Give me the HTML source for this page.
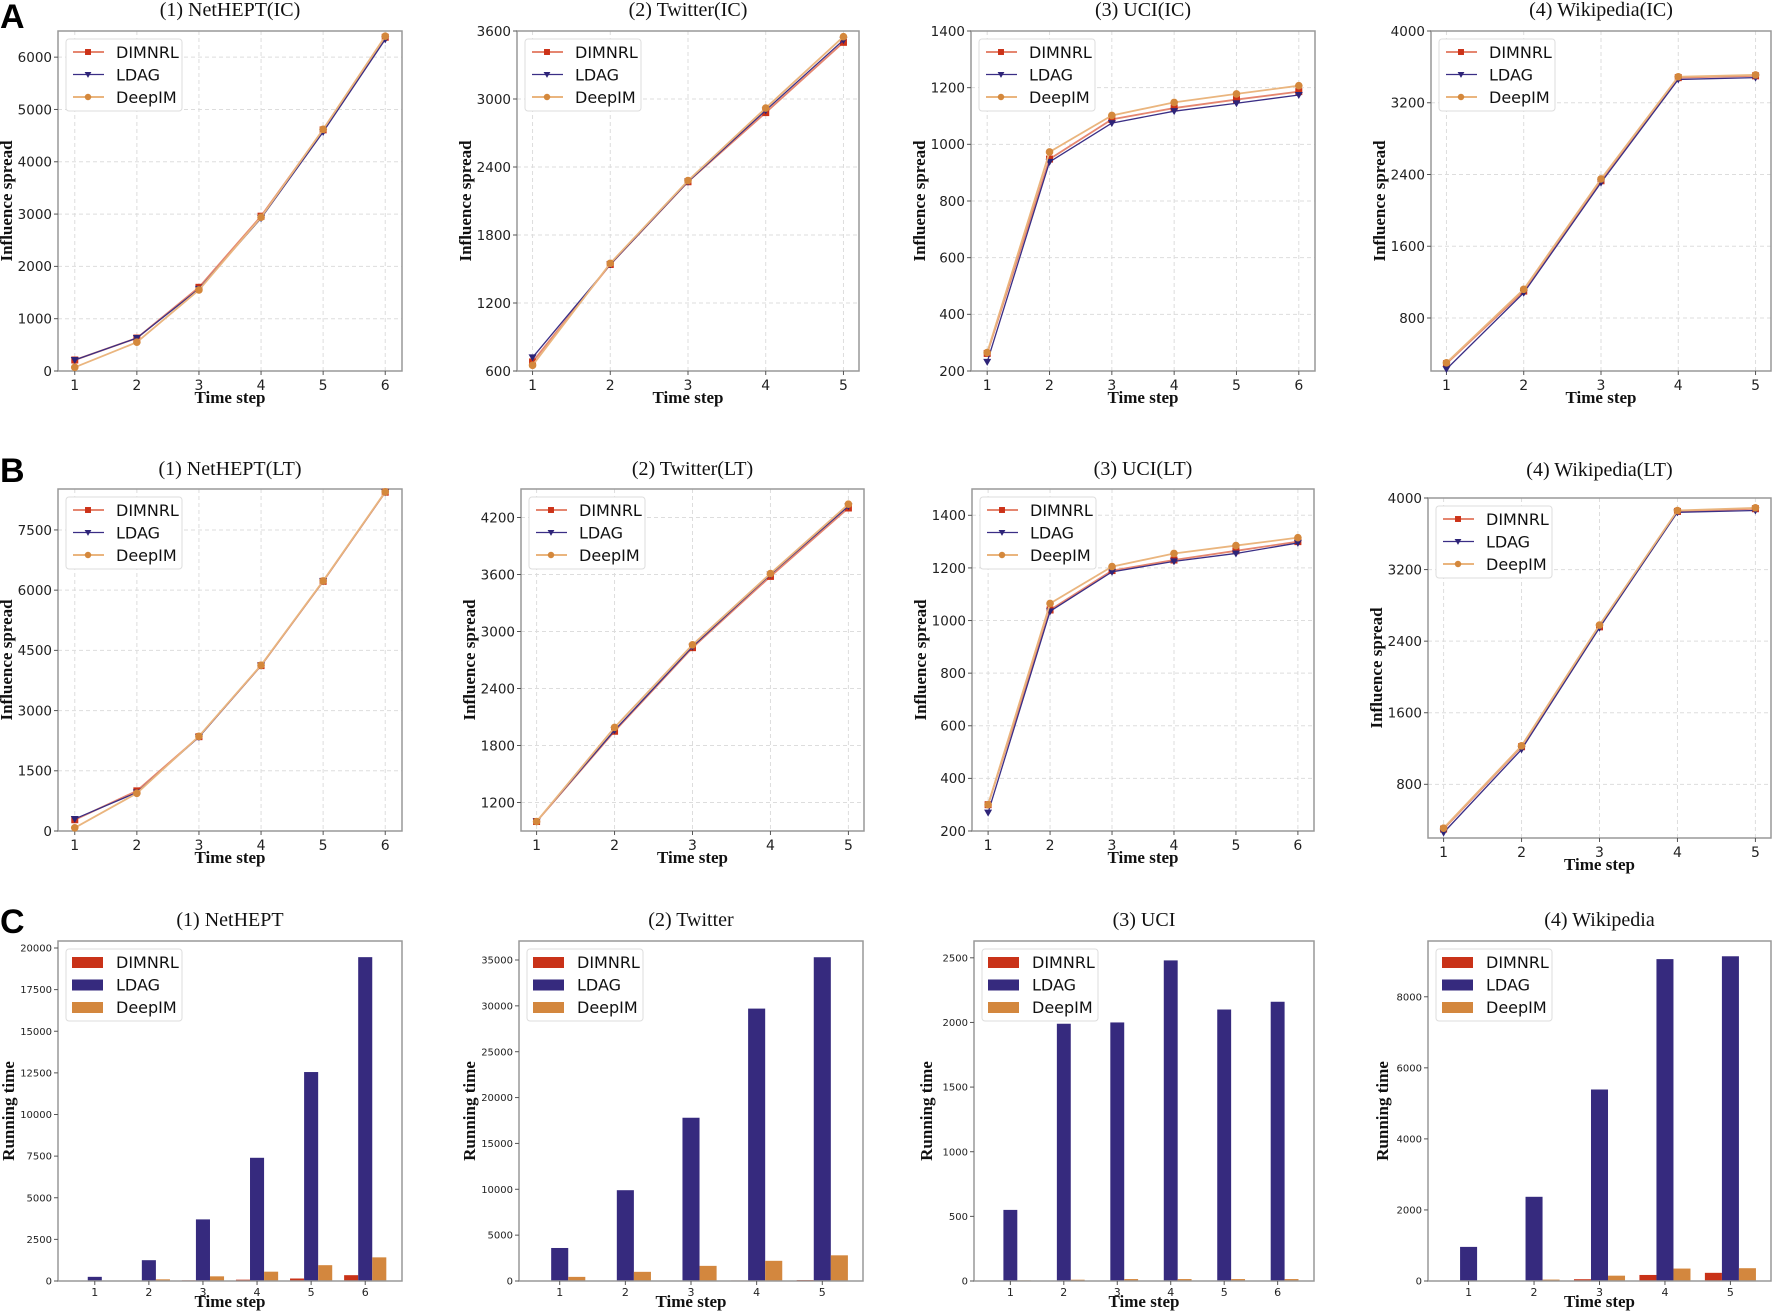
<!DOCTYPE html>
<html><head><meta charset="utf-8"><style>
body{margin:0;background:#fff}
svg{display:block}
.tk{font-family:"DejaVu Sans","Liberation Sans",sans-serif;fill:#222}
.ttl{font-family:"Liberation Serif",serif;font-size:20px;fill:#111}
.al{font-family:"Liberation Serif",serif;font-size:17px;font-weight:bold;fill:#111}
.lg{font-family:"DejaVu Sans","Liberation Sans",sans-serif;font-size:16px;fill:#111}
.pl{font-family:"Liberation Sans",sans-serif;font-size:34px;font-weight:bold;fill:#000}
</style></head><body>
<svg id="fig" width="1772" height="1311" xmlns="http://www.w3.org/2000/svg">
<text class="pl" x="0" y="28">A</text>
<text class="pl" x="0" y="482">B</text>
<text class="pl" x="0" y="933">C</text>
</svg>
<script>
const steps6=[1,2,3,4,5,6];
const steps5=[1,2,3,4,5];
const seriesNames=["DIMNRL","LDAG","DeepIM"];
// A row (IC)
const a1Dimnrl=[210,630,1600,2960,4610,6380];
const a1Ldag=[210,630,1570,2920,4570,6340];
const a1Deepim=[70,550,1550,2940,4620,6400];
const a1Ticks=[0,1000,2000,3000,4000,5000,6000];
const a2Dimnrl=[680,1540,2270,2880,3500];
const a2Ldag=[720,1540,2270,2900,3520];
const a2Deepim=[650,1550,2280,2920,3550];
const a2Ticks=[600,1200,1800,2400,3000,3600];
const a3Dimnrl=[262,948,1088,1128,1158,1186];
const a3Ldag=[232,938,1075,1117,1145,1174];
const a3Deepim=[265,973,1102,1148,1178,1207];
const a3Ticks=[200,400,600,800,1000,1200,1400];
const a4Dimnrl=[290,1100,2330,3480,3500];
const a4Ldag=[230,1080,2310,3460,3480];
const a4Deepim=[300,1120,2350,3490,3510];
const a4Ticks=[800,1600,2400,3200,4000];
// B row (LT)
const b1Dimnrl=[280,1000,2350,4120,6220,8440];
const b1Ldag=[300,960,2340,4120,6220,8440];
const b1Deepim=[80,940,2360,4130,6230,8450];
const b1Ticks=[0,1500,3000,4500,6000,7500];
const b2Dimnrl=[1000,1950,2830,3580,4300];
const b2Ldag=[1000,1960,2840,3600,4320];
const b2Deepim=[1000,1990,2860,3610,4340];
const b2Ticks=[1200,1800,2400,3000,3600,4200];
const b3Dimnrl=[300,1040,1190,1230,1265,1300];
const b3Ldag=[270,1035,1185,1225,1255,1295];
const b3Deepim=[300,1065,1205,1255,1285,1315];
const b3Ticks=[200,400,600,800,1000,1200,1400];
const b4Dimnrl=[300,1220,2560,3850,3880];
const b4Ldag=[260,1190,2550,3840,3860];
const b4Deepim=[310,1230,2580,3860,3890];
const b4Ticks=[800,1600,2400,3200,4000];
// C row (running time)
const c1Dimnrl=[10,20,40,80,150,350];
const c1Ldag=[250,1250,3700,7400,12550,19450];
const c1Deepim=[20,100,280,560,950,1420];
const c1Ticks=[0,2500,5000,7500,10000,12500,15000,17500,20000];
const c2Dimnrl=[10,20,40,60,100];
const c2Ldag=[3600,9900,17800,29700,35300];
const c2Deepim=[450,1000,1650,2200,2800];
const c2Ticks=[0,5000,10000,15000,20000,25000,30000,35000];
const c3Dimnrl=[2,3,3,3,3,3];
const c3Ldag=[550,1990,2000,2480,2100,2160];
const c3Deepim=[5,10,15,15,15,15];
const c3Ticks=[0,500,1000,1500,2000,2500];
const c4Dimnrl=[0,10,50,170,230];
const c4Ldag=[960,2370,5390,9060,9140];
const c4Deepim=[0,40,150,350,360];
const c4Ticks=[0,2000,4000,6000,8000];

const NS="http://www.w3.org/2000/svg";
const svg=document.getElementById('fig');
const lineCol=["#e58670","#3a2e85","#eab57e"];
const markCol=["#cc3218","#2e2478","#d4883c"];
const barCol=["#c93218","#362a7e","#d3873e"];
function mk(tag,attrs,parent){const e=document.createElementNS(NS,tag);for(const k in attrs)e.setAttribute(k,attrs[k]);(parent||svg).appendChild(e);return e;}
function txt(cls,x,y,s,anchor,parent){const t=mk('text',{class:cls,x:x,y:y,'text-anchor':anchor||'middle'},parent);t.textContent=s;return t;}

function frame(g,c,xs,ticks,sx,sy,tickFont,grid){
  if(grid){
    ticks.forEach(v=>{const y=sy(v);const l=mk('line',{x1:c.l,x2:c.r,y1:y,y2:y,stroke:'#ddd','stroke-dasharray':'4,3','stroke-width':1},g);
    
    });
    xs.forEach((v,i)=>{const x=sx(v,i);const l=mk('line',{x1:x,x2:x,y1:c.t,y2:c.b,stroke:'#ddd','stroke-dasharray':'4,3','stroke-width':1},g);
    
    });
  }
  const f=mk('rect',{x:c.l,y:c.t,width:c.r-c.l,height:c.b-c.t,fill:'none',stroke:'#999','stroke-width':1.5},g);
  
  
  ticks.forEach(v=>{const y=sy(v);mk('line',{x1:c.l-4,x2:c.l,y1:y,y2:y,stroke:'#555'},g);
    const t=txt('tk',c.l-6,y+tickFont*0.36,String(v),'end',g);t.setAttribute('font-size',tickFont);
    
    });
  xs.forEach((v,i)=>{const x=sx(v,i);mk('line',{x1:x,x2:x,y1:c.b,y2:c.b+4,stroke:'#555'},g);
    const t=txt('tk',x,c.b+(grid?19:15),String(v),'middle',g);t.setAttribute('font-size',grid?14:11);
    
    });
  const tt=txt('ttl',(c.l+c.r)/2,c.tt,c.title,'middle',g);
  
  
  const xl=txt('al',(c.l+c.r)/2,c.b+(grid?32:26),'Time step','middle',g);
  
  
  const cy=(c.t+c.b)/2, cx=c.l-c.yl;
  const yl=mk('text',{class:'al',x:cx,y:cy,'text-anchor':'middle',transform:'rotate(-90 '+cx+' '+cy+')'},g);
  yl.textContent=c.ylabel;
  
  
}
function marker(g,k,x,y,s){
  let m;
  if(k===0)m=mk('rect',{x:x-3.5*s,y:y-3.5*s,width:7*s,height:7*s,fill:markCol[0]},g);
  else if(k===1)m=mk('polygon',{points:(x-4*s)+','+(y-3*s)+' '+(x+4*s)+','+(y-3*s)+' '+x+','+(y+4*s),fill:markCol[1]},g);
  else m=mk('circle',{cx:x,cy:y,r:3.8*s,fill:markCol[2]},g);
  return m;
}
function legend(g,x,y,bars){
  const box=mk('rect',{x:x,y:y,width:116,height:72,rx:3,fill:'#fff',stroke:'#ddd'},g);
  
  
  seriesNames.forEach((n,k)=>{const yy=y+13+k*22.5;
    if(bars){const r=mk('rect',{x:x+6,y:yy-5,width:31,height:11,fill:barCol[k]},g);
      
      }
    else{mk('line',{x1:x+7,x2:x+38,y1:yy,y2:yy,stroke:lineCol[k],'stroke-width':k===1?1.3:2},g);marker(g,k,x+22,yy,0.85);}
    const t=txt('lg',x+50,yy+6,n,'start',g);
    
    });
}
function lineChart(name,c,xs,series,ticks,ymin,ymax,xpad){
  const g=mk('g',{});
  
  
  const x0=xs[0]-xpad,x1=xs[xs.length-1]+xpad;
  const sx=v=>c.l+(v-x0)/(x1-x0)*(c.r-c.l);
  const sy=v=>c.b-(v-ymin)/(ymax-ymin)*(c.b-c.t);
  frame(g,c,xs,ticks,sx,sy,13.5,true);
  series.forEach((s,k)=>{
    const p=mk('polyline',{points:s.map((v,i)=>sx(xs[i])+','+sy(v)).join(' '),fill:'none',stroke:lineCol[k],'stroke-width':k===1?1.3:1.8},g);
    
    
    s.forEach((v,i)=>{const m=marker(g,k,sx(xs[i]),sy(v),1);
      
      });
  });
  legend(g,c.l+8,c.t+8,false);
}
function barChart(name,c,xs,series,ticks,ymax,pad){
  const g=mk('g',{});
  
  
  const n=xs.length,x0=-pad,x1=n-1+pad;
  const sx=(v,i)=>c.l+(i-x0)/(x1-x0)*(c.r-c.l);
  const sy=v=>c.b-v/ymax*(c.b-c.t);
  const unit=(c.r-c.l)/(x1-x0),w=0.26*unit;
  series.forEach((s,k)=>{s.forEach((v,i)=>{const cx=sx(0,i)+(k-1)*w;
    const r=mk('rect',{x:cx-w/2,y:sy(v),width:w,height:c.b-sy(v),fill:barCol[k]},g);
    
    });});
  frame(g,c,xs,ticks,sx,sy,10,false);
  legend(g,c.l+8,c.t+8,true);
}
const IS='Influence spread',RT='Running time';
lineChart('chart-nethept-ic',{l:58,r:402,t:31,b:371,tt:16,title:'(1) NetHEPT(IC)',ylabel:IS,yl:46},steps6,[a1Dimnrl,a1Ldag,a1Deepim],a1Ticks,0,6500,0.27);
lineChart('chart-twitter-ic',{l:517,r:859,t:31,b:371,tt:16,title:'(2) Twitter(IC)',ylabel:IS,yl:46},steps5,[a2Dimnrl,a2Ldag,a2Deepim],a2Ticks,600,3600,0.2);
lineChart('chart-uci-ic',{l:971,r:1315,t:31,b:371,tt:16,title:'(3) UCI(IC)',ylabel:IS,yl:46},steps6,[a3Dimnrl,a3Ldag,a3Deepim],a3Ticks,200,1400,0.26);
lineChart('chart-wikipedia-ic',{l:1431,r:1771,t:31,b:371,tt:16,title:'(4) Wikipedia(IC)',ylabel:IS,yl:46},steps5,[a4Dimnrl,a4Ldag,a4Deepim],a4Ticks,209,4000,0.2);
lineChart('chart-nethept-lt',{l:58,r:402,t:489,b:831,tt:475,title:'(1) NetHEPT(LT)',ylabel:IS,yl:46},steps6,[b1Dimnrl,b1Ldag,b1Deepim],b1Ticks,0,8520,0.27);
lineChart('chart-twitter-lt',{l:521,r:864,t:489,b:831,tt:475,title:'(2) Twitter(LT)',ylabel:IS,yl:46},steps5,[b2Dimnrl,b2Ldag,b2Deepim],b2Ticks,900,4500,0.2);
lineChart('chart-uci-lt',{l:972,r:1314,t:489,b:831,tt:475,title:'(3) UCI(LT)',ylabel:IS,yl:46},steps6,[b3Dimnrl,b3Ldag,b3Deepim],b3Ticks,200,1500,0.26);
lineChart('chart-wikipedia-lt',{l:1428,r:1771,t:498,b:838,tt:476,title:'(4) Wikipedia(LT)',ylabel:IS,yl:46},steps5,[b4Dimnrl,b4Ldag,b4Deepim],b4Ticks,200,4000,0.2);
barChart('chart-nethept-time',{l:58,r:402,t:941,b:1281,tt:926,title:'(1) NetHEPT',ylabel:RT,yl:44},steps6,[c1Dimnrl,c1Ldag,c1Deepim],c1Ticks,20420,0.68);
barChart('chart-twitter-time',{l:519,r:863,t:941,b:1281,tt:926,title:'(2) Twitter',ylabel:RT,yl:44},steps5,[c2Dimnrl,c2Ldag,c2Deepim],c2Ticks,37070,0.62);
barChart('chart-uci-time',{l:974,r:1314,t:941,b:1281,tt:926,title:'(3) UCI',ylabel:RT,yl:42},steps6,[c3Dimnrl,c3Ldag,c3Deepim],c3Ticks,2630,0.68);
barChart('chart-wikipedia-time',{l:1428,r:1771,t:941,b:1281,tt:926,title:'(4) Wikipedia',ylabel:RT,yl:40},steps5,[c4Dimnrl,c4Ldag,c4Deepim],c4Ticks,9570,0.62);
</script>
</body></html>
